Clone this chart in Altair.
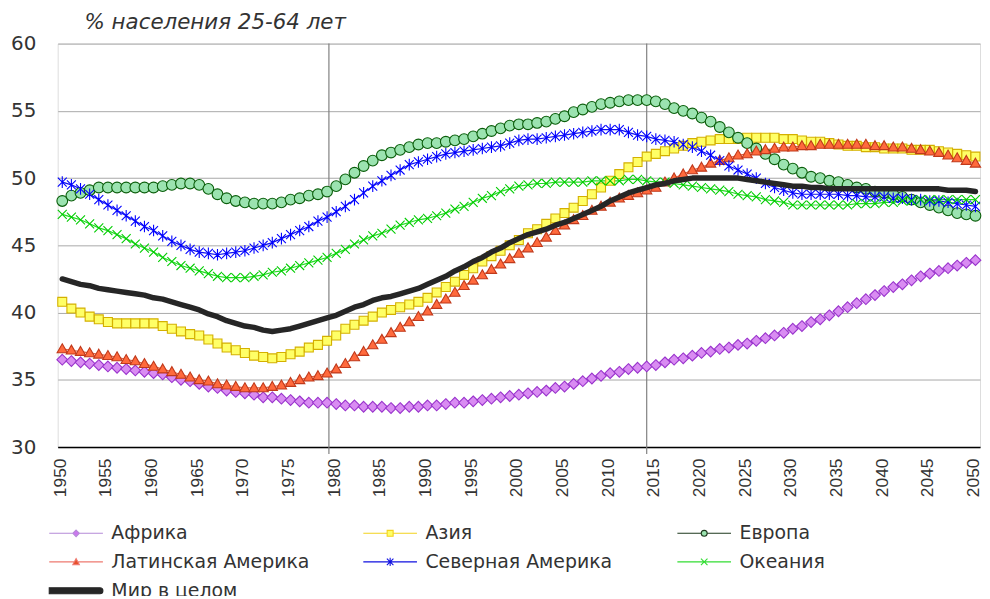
import altair as alt
import pandas as pd

years = list(range(1950, 2051))
x_ticks = list(range(1950, 2051, 5))
y_ticks = [30, 35, 40, 45, 50, 55, 60]
period_lines = [1979.2, 2014.0]

series_names = ["Африка", "Азия", "Европа", "Латинская Америка",
                "Северная Америка", "Океания", "Мир в целом"]

africa = [
    36.5, 36.4, 36.3, 36.2, 36.1, 36.0, 35.9, 35.8, 35.7, 35.6,
    35.5, 35.4, 35.2, 35.0, 34.9, 34.7, 34.5, 34.4, 34.2, 34.1,
    34.0, 33.9, 33.7, 33.7, 33.6, 33.5, 33.4, 33.3, 33.3, 33.3,
    33.2, 33.1, 33.1, 33.0, 33.0, 33.0, 32.9, 32.9, 33.0, 33.0,
    33.1, 33.1, 33.2, 33.3, 33.3, 33.4, 33.5, 33.6, 33.7, 33.8,
    33.9, 34.0, 34.1, 34.2, 34.4, 34.5, 34.7, 34.9, 35.1, 35.3,
    35.5, 35.6, 35.8, 35.9, 36.0, 36.1, 36.3, 36.5, 36.6, 36.8,
    37.0, 37.1, 37.3, 37.4, 37.6, 37.7, 37.9, 38.1, 38.3, 38.5,
    38.8, 39.0, 39.3, 39.5, 39.8, 40.1, 40.4, 40.7, 41.0, 41.3,
    41.6, 41.9, 42.1, 42.4, 42.7, 42.9, 43.1, 43.3, 43.5, 43.7,
    43.9,
]
asia = [
    40.8, 40.3, 40.0, 39.7, 39.5, 39.3, 39.2, 39.2, 39.2, 39.2,
    39.2, 39.0, 38.8, 38.6, 38.4, 38.3, 38.0, 37.7, 37.4, 37.2,
    37.0, 36.8, 36.7, 36.6, 36.7, 36.9, 37.1, 37.4, 37.6, 37.9,
    38.3, 38.8, 39.1, 39.4, 39.7, 40.0, 40.2, 40.4, 40.6, 40.8,
    41.1, 41.5, 41.9, 42.3, 42.8, 43.3, 43.8, 44.2, 44.6, 45.0,
    45.4, 45.9, 46.2, 46.6, 47.0, 47.4, 47.8, 48.3, 48.8, 49.3,
    49.8, 50.3, 50.8, 51.2, 51.6, 51.8, 52.0, 52.2, 52.4, 52.6,
    52.7, 52.8, 52.9, 52.9, 52.9, 53.0, 53.0, 53.0, 53.0, 52.9,
    52.9, 52.8, 52.7, 52.7, 52.6, 52.5, 52.4, 52.4, 52.3, 52.3,
    52.2, 52.2, 52.2, 52.1, 52.1, 52.1, 52.0, 51.9, 51.8, 51.7,
    51.6,
]
europe = [
    48.3, 48.7, 48.9, 49.1, 49.3, 49.3, 49.3, 49.3, 49.3, 49.3,
    49.3, 49.4, 49.5, 49.6, 49.6, 49.5, 49.2, 48.8, 48.5, 48.3,
    48.2, 48.1, 48.1, 48.1, 48.2, 48.4, 48.5, 48.7, 48.8, 49.0,
    49.4, 49.9, 50.4, 50.9, 51.3, 51.7, 51.9, 52.1, 52.3, 52.5,
    52.6, 52.6, 52.7, 52.8, 52.9, 53.1, 53.3, 53.5, 53.7, 53.9,
    54.0, 54.0, 54.1, 54.2, 54.4, 54.6, 54.9, 55.1, 55.3, 55.5,
    55.6, 55.7, 55.8, 55.8, 55.8, 55.7, 55.5, 55.2, 55.0, 54.8,
    54.5, 54.2, 53.8, 53.4, 53.0, 52.6, 52.2, 51.8, 51.4, 51.0,
    50.7, 50.4, 50.1, 50.0, 49.8, 49.7, 49.5, 49.3, 49.2, 49.0,
    48.9, 48.8, 48.6, 48.4, 48.2, 48.0, 47.8, 47.6, 47.4, 47.3,
    47.2,
]
latin_america = [
    37.3, 37.2, 37.1, 37.0, 36.9, 36.8, 36.7, 36.5, 36.4, 36.2,
    36.0, 35.8, 35.6, 35.4, 35.2, 35.0, 34.9, 34.7, 34.6, 34.5,
    34.4, 34.4, 34.4, 34.5, 34.6, 34.8, 35.0, 35.2, 35.3, 35.5,
    35.8, 36.2, 36.7, 37.1, 37.6, 38.0, 38.5, 38.9, 39.3, 39.7,
    40.1, 40.6, 41.0, 41.5, 42.0, 42.4, 42.8, 43.2, 43.6, 44.0,
    44.4, 44.8, 45.2, 45.6, 46.1, 46.5, 46.9, 47.2, 47.6, 47.9,
    48.2, 48.5, 48.7, 48.9, 49.1, 49.3, 49.7, 50.0, 50.3, 50.6,
    50.8, 51.1, 51.3, 51.5, 51.7, 51.8, 52.0, 52.1, 52.2, 52.3,
    52.3, 52.4, 52.4, 52.5, 52.5, 52.5, 52.5, 52.5, 52.5, 52.4,
    52.4, 52.3, 52.3, 52.2, 52.1, 52.0, 51.9, 51.7, 51.5, 51.3,
    51.1,
]
north_america = [
    49.7, 49.5, 49.2, 48.8, 48.4, 48.0, 47.6, 47.2, 46.8, 46.4,
    46.1, 45.7, 45.3, 45.0, 44.7, 44.5, 44.4, 44.3, 44.4, 44.5,
    44.6, 44.8, 45.0, 45.2, 45.5, 45.8, 46.1, 46.4, 46.8, 47.1,
    47.5, 47.9, 48.4, 48.9, 49.4, 49.8, 50.2, 50.6, 51.0, 51.2,
    51.4, 51.6, 51.8, 51.9, 52.0, 52.1, 52.2, 52.3, 52.4, 52.6,
    52.8, 52.9, 52.9, 53.0, 53.1, 53.2, 53.3, 53.4, 53.5, 53.6,
    53.6, 53.6, 53.4, 53.2, 53.1, 52.9, 52.8, 52.7, 52.5, 52.3,
    52.0, 51.7, 51.3, 50.9, 50.6, 50.3, 50.0, 49.6, 49.3, 49.1,
    48.9, 48.8, 48.8, 48.8, 48.8, 48.8, 48.7, 48.7, 48.6, 48.6,
    48.6, 48.5, 48.5, 48.4, 48.4, 48.3, 48.3, 48.2, 48.1, 48.0,
    47.9,
]
oceania = [
    47.3, 47.1, 46.9, 46.6, 46.3, 46.1, 45.8, 45.5, 45.1, 44.8,
    44.5, 44.1, 43.8, 43.5, 43.3, 43.1, 42.9, 42.7, 42.6, 42.6,
    42.6, 42.7, 42.8, 43.0, 43.1, 43.3, 43.5, 43.7, 43.9, 44.1,
    44.4, 44.7, 45.1, 45.4, 45.7, 45.9, 46.2, 46.5, 46.7, 46.9,
    47.0, 47.2, 47.4, 47.7, 47.9, 48.2, 48.5, 48.7, 49.0, 49.2,
    49.4, 49.5, 49.6, 49.6, 49.7, 49.7, 49.7, 49.7, 49.8, 49.8,
    49.8, 49.8, 49.9, 49.9, 49.8, 49.7, 49.7, 49.6, 49.5, 49.4,
    49.3, 49.2, 49.1, 49.0, 48.8, 48.7, 48.6, 48.4, 48.3, 48.2,
    48.0, 48.0, 48.0, 48.0, 48.0, 48.0, 48.0, 48.1, 48.1, 48.1,
    48.2, 48.2, 48.3, 48.3, 48.4, 48.4, 48.4, 48.4, 48.4, 48.4,
    48.4,
]
world = [
    42.5, 42.3, 42.1, 42.0, 41.8, 41.7, 41.6, 41.5, 41.4, 41.3,
    41.1, 41.0, 40.8, 40.6, 40.4, 40.2, 39.9, 39.7, 39.4, 39.2,
    39.0, 38.9, 38.7, 38.6, 38.7, 38.8, 39.0, 39.2, 39.4, 39.6,
    39.8, 40.1, 40.4, 40.6, 40.9, 41.1, 41.2, 41.4, 41.6, 41.8,
    42.1, 42.4, 42.7, 43.1, 43.4, 43.8, 44.1, 44.5, 44.8, 45.2,
    45.5, 45.8, 46.0, 46.2, 46.5, 46.7, 47.0, 47.3, 47.6, 47.9,
    48.3, 48.6, 48.9, 49.1, 49.3, 49.5, 49.6, 49.8, 49.9, 50.0,
    50.0, 50.0, 50.0, 50.0, 50.0, 49.9, 49.8, 49.7, 49.6, 49.5,
    49.4, 49.4, 49.3, 49.3, 49.2, 49.2, 49.2, 49.2, 49.2, 49.2,
    49.2, 49.2, 49.2, 49.2, 49.2, 49.2, 49.2, 49.1, 49.1, 49.1,
    49.0,
]

all_series = [africa, asia, europe, latin_america, north_america, oceania, world]

rows = []
for idx, (name, vals) in enumerate(zip(series_names, all_series)):
    for yr, v in zip(years, vals):
        rows.append({"year": yr, "value": v, "series": name, "k": idx})
df = pd.DataFrame(rows)
rules_df = pd.DataFrame({"year": period_lines})

marked = series_names[:6]
line_colors = ["#B57AD6", "#F0D020", "#1E5A1E", "#E0603F", "#1010F0", "#22DD22"]
fill_colors = ["#D98CF2", "#FFFF66", "#9BE3B0", "#FF6A3D", "#0000FF", "#00EE00"]
stroke_colors = ["#9933CC", "#D4B000", "#0B5E0B", "#C0391B", "#0000FF", "#00CC00"]
marker_paths = [
    "M0,-1.2L1.2,0L0,1.2L-1.2,0Z",
    "M-1,-1H1V1H-1Z",
    "M1.2,0A1.2,1.2,0,1,1,-1.2,0A1.2,1.2,0,1,1,1.2,0Z",
    "M0,-1.15L1.15,0.85H-1.15Z",
    "M-1,-1L1,1M-1,1L1,-1M0,-1.3V1.3",
    "M-1,-1L1,1M-1,1L1,-1",
]
legend_paths = [
    "M-9,0H-1.1M1.1,0H9M0,-1.1L1.1,0L0,1.1L-1.1,0Z",
    "M-9,0H-1M1,0H9M-1,-1H1V1H-1Z",
    "M-9,0H-1M1,0H9M1,0A1,1,0,1,1,-1,0A1,1,0,1,1,1,0Z",
    "M-9,0H-0.6M0.6,0H9M0,-1.1L1.1,0.9H-1.1Z",
    "M-9,0H9M-1.1,-1.1L1.1,1.1M-1.1,1.1L1.1,-1.1M0,-1.4V1.4",
    "M-9,0H9M-1.1,-1.1L1.1,1.1M-1.1,1.1L1.1,-1.1",
    "M-9,-1H8A1,1,0,0,1,8,1H-9Z",
]
legend_fill = ["#CC77EE", "#FFFF66", "#9BE3B0", "#E8502A", "#0000FF", "#00EE00", "#262626"]
legend_stroke = ["#B58AD8", "#F2D21E", "#1E3A1E", "#EE7A70", "#1010E0", "#33DD33", "#262626"]

FONT = "DejaVu Sans"
AXFONT = "Liberation Sans"
TEXT = "#333333"

x_enc = alt.X("year:Q",
              scale=alt.Scale(domain=[1949.5, 2050.5], nice=False, zero=False),
              axis=alt.Axis(values=x_ticks, format="d", labelAngle=270, labelFontSize=17.5,
                            labelFont=AXFONT, labelColor=TEXT, ticks=False, grid=False,
                            domainColor="#000000", domainWidth=1.5, labelPadding=11,
                            labelOffset=-2, title=None, labelFlush=False, labelOverlap=False))
y_enc = alt.Y("value:Q",
              scale=alt.Scale(domain=[30, 60], nice=False, zero=False),
              axis=alt.Axis(values=y_ticks, grid=True, gridColor="#A8A8A8", gridWidth=1,
                            domain=False, ticks=False, labelFontSize=20, labelFont=FONT,
                            labelColor=TEXT, labelPadding=22, title=None))

base = alt.Chart(df)

rules = alt.Chart(rules_df).mark_rule(color="#808080", strokeWidth=1.2).encode(
    x=x_enc, y=alt.value(0), y2=alt.value(413))

lines = base.transform_filter(alt.datum.k < 6).mark_line(strokeWidth=1.2).encode(
    x=x_enc, y=y_enc, detail="series:N",
    color=alt.Color("series:N", scale=alt.Scale(domain=marked, range=line_colors), legend=None))

points = base.transform_filter(alt.datum.k < 6).mark_point(
    filled=True, opacity=1, size=81, strokeWidth=1.1).encode(
    x=x_enc, y=y_enc,
    shape=alt.Shape("series:N", scale=alt.Scale(domain=marked, range=marker_paths), legend=None),
    fill=alt.Fill("series:N", scale=alt.Scale(domain=marked, range=fill_colors), legend=None),
    stroke=alt.Stroke("series:N", scale=alt.Scale(domain=marked, range=stroke_colors), legend=None))

world_line = base.transform_filter(alt.datum.k == 6).mark_line(
    color="#262626", strokeWidth=5.5, strokeCap="round", strokeJoin="round").encode(x=x_enc, y=y_enc)

leg = alt.Legend(orient="none", legendX=9, legendY=483, columns=3, direction="horizontal",
                 title=None, labelFont=FONT, labelFontSize=19, labelColor=TEXT, labelLimit=400,
                 symbolSize=36, symbolStrokeWidth=1.1, labelOffset=26, columnPadding=51,
                 rowPadding=9, gridAlign="all", padding=0, symbolOpacity=1)

legend_layer = base.transform_filter(alt.datum.value > 1000).mark_point(
    filled=True, opacity=1, strokeWidth=1.1).encode(
    x=x_enc, y=y_enc,
    shape=alt.Shape("series:N", scale=alt.Scale(domain=series_names, range=legend_paths), legend=leg),
    fill=alt.Fill("series:N", scale=alt.Scale(domain=series_names, range=legend_fill), legend=leg),
    stroke=alt.Stroke("series:N", scale=alt.Scale(domain=series_names, range=legend_stroke), legend=leg))

chart = alt.layer(rules, lines, points, world_line, legend_layer).resolve_scale(
    shape="independent", fill="independent", stroke="independent"
).properties(
    width=928, height=406,
    title=alt.TitleParams("% населения 25-64 лет", anchor="start", frame="group", dx=27, offset=0,
                          fontSize=21.5, fontStyle="italic", fontWeight="normal",
                          font=FONT, color=TEXT),
    autosize=alt.AutoSizeParams(type="none"),
    padding={"left": 50, "top": 34, "right": 2, "bottom": 148},
).configure_view(stroke="#888888", strokeWidth=1).configure(background="white")

chart.save("out.html", embed_options={"renderer": "svg", "actions": False})
